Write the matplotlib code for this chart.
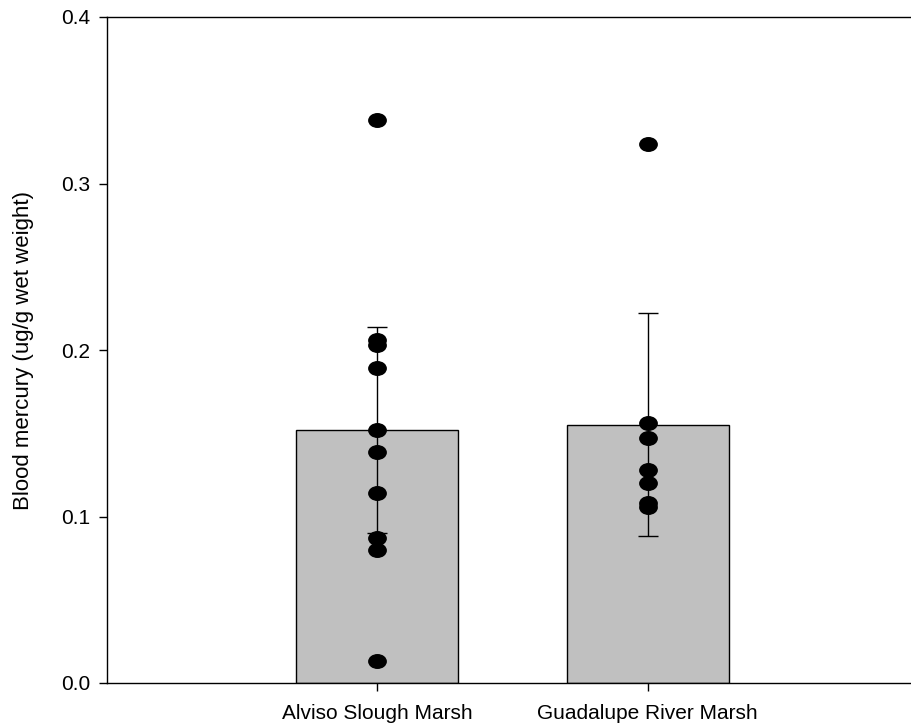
import matplotlib
matplotlib.use("Agg")
import matplotlib.pyplot as plt
import numpy as np
from matplotlib.path import Path

# site means, error bars and individual bird values
sites = ["Alviso Slough Marsh", "Guadalupe River Marsh"]
means = [0.152, 0.155]
errors = [0.062, 0.067]
alviso_pts = [0.338, 0.206, 0.203, 0.189, 0.152, 0.139, 0.114, 0.087, 0.080, 0.013]
guadalupe_pts = [0.324, 0.156, 0.147, 0.128, 0.120, 0.108, 0.106]
yticks = [0.0, 0.1, 0.2, 0.3, 0.4]

plt.rcParams['font.family'] = ['Liberation Sans', 'DejaVu Sans']

fig = plt.figure(figsize=(9.11, 7.28), dpi=100)
ax = fig.add_axes([107 / 911, 45 / 728, 811 / 911, 666 / 728])

x = np.arange(len(sites))
ax.bar(x, means, width=0.6, color='#c0c0c0', edgecolor='black', linewidth=1.0, zorder=2)
ax.errorbar(x, means, yerr=errors, fmt='none', ecolor='black', elinewidth=1.0,
            capsize=7, capthick=1.0, zorder=3)

# flattened ellipse marker like the original
circ = Path.unit_circle()
ell = Path(circ.vertices * np.array([1.0, 0.78]), circ.codes)

for xi, pts in zip(x, [alviso_pts, guadalupe_pts]):
    ax.plot([xi] * len(pts), pts, linestyle='none', marker=ell, markersize=12.5,
            color='black', zorder=4)

ax.set_xlim(-1, 2)
ax.set_ylim(0, 0.4)
ax.set_xticks(x)
ax.set_xticklabels(sites, fontsize=15)
ax.set_yticks(yticks)
ax.set_yticklabels([f"{v:.1f}" for v in yticks], fontsize=15)
ax.tick_params(direction='out', length=6, width=1.0, pad=6)
ax.tick_params(axis='x', pad=9)
ax.spines['right'].set_visible(False)
for s in ['left', 'bottom', 'top']:
    ax.spines[s].set_linewidth(1.0)

ax.set_ylabel("Blood mercury (ug/g wet weight)", fontsize=16)
ax.yaxis.set_label_coords(-0.09, 0.5)

fig.savefig("out.png", dpi=100)
